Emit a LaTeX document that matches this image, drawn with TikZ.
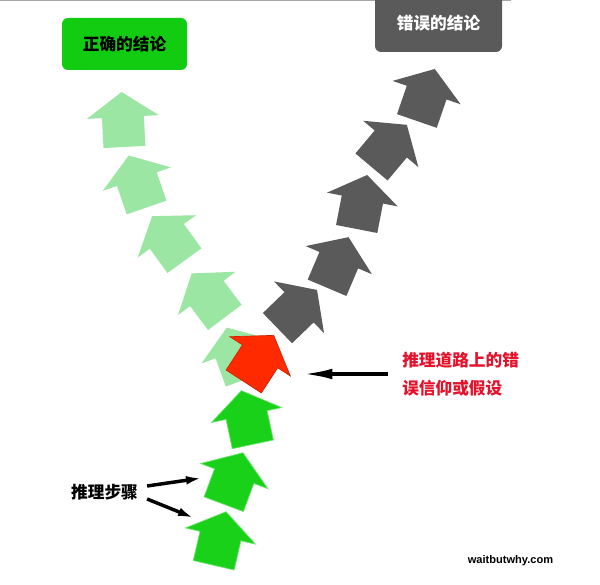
\documentclass[tikz,border=0pt]{standalone}
\usepackage{fontspec}
\newfontfamily\cjk{Noto Sans CJK SC}
\newfontfamily\webfont{Liberation Sans}
\usepackage{xcolor}
\definecolor{rightgreen}{HTML}{12CC12}
\definecolor{stepgreen}{HTML}{1AD11A}
\definecolor{palegreen}{HTML}{9CE6A4}
\definecolor{wronggrey}{HTML}{5A5A5A}
\definecolor{faultred}{HTML}{FF2A00}
\definecolor{labelred}{HTML}{E4122B}
\usepackage{tikz}
\usetikzlibrary{arrows.meta}
\usetikzlibrary{positioning}
\tikzstyle{concl} = [rectangle, rounded corners=4.5pt, inner sep=0pt,
    font=\cjk\bfseries\fontsize{12.5}{15}\selectfont]
\tikzstyle{note} = [inner ysep=2pt, font=\cjk\bfseries\fontsize{12.5}{21}\selectfont]
\tikzstyle{line} = [draw, line width=2.6pt, -{Latex[length=12pt,width=6.5pt]}]
\tikzset{
  house/.pic={
    \path[pic actions] (0,-27) -- (36,-2) -- (21,-2) -- (21,28) -- (-21,28)
      -- (-21,-2) -- (-36,-2) -- cycle;
  }
}

\begin{document}
\begin{tikzpicture}[x=0.75pt, y=-0.75pt]
    \useasboundingbox[fill=white] (0,0) rectangle (600,585);
    \clip (0,0) rectangle (600,585);
    \draw[gray!70, line width=0.75pt] (0,0.5) -- (511,0.5);

    % Conclusions
    \node [concl, fill=rightgreen, minimum width=93.75pt, minimum height=39pt] (right) at (124.5,44) {正确的结论};
    \node [concl, fill=wronggrey, text=white, minimum width=95.25pt, minimum height=43.5pt] (wrong) at (438.5,23) {错误的结论};

    % Steps towards the right conclusion
    \pic [fill=palegreen, rotate=3] at (123,119) {house};
    \pic [fill=palegreen, rotate=19] at (137.5,181) {house};
    \pic [fill=palegreen, rotate=36] at (168,238) {house};
    \pic [fill=palegreen, rotate=37] at (208,295) {house};
    \pic [fill=palegreen, rotate=20] at (236,353) {house};

    % Steps towards the wrong conclusion
    \pic [fill=wronggrey, rotate=-46] at (297.6,308.7) {house};
    \pic [fill=wronggrey, rotate=-23] at (338,262) {house};
    \pic [fill=wronggrey, rotate=-11] at (362,201.5) {house};
    \pic [fill=wronggrey, rotate=-40] at (389.5,145.5) {house};
    \pic [fill=wronggrey, rotate=-19] at (426,94.5) {house};

    % Steps taken so far
    \pic [fill=stepgreen, draw=stepgreen!60, line width=0.5pt, rotate=12] at (247,417) {house};
    \pic [fill=stepgreen, draw=stepgreen!60, line width=0.5pt, rotate=-20.5] at (233.5,478) {house};
    \pic [fill=stepgreen, draw=stepgreen!60, line width=0.5pt, rotate=-13] at (220,538) {house};
    \pic [fill=faultred, draw=faultred!80!black, line width=0.5pt, rotate=-33] at (259,358) {house};

    % Labels
    \node [note, text=labelred, align=left, anchor=west, inner xsep=10.5pt] (fault) at (388,374) {推理道路上的错\\误信仰或假设};
    \node [note, inner xsep=6.75pt] (steps) at (104.5,492) {推理步骤};
    \node [font=\webfont\bfseries\fontsize{8.3}{10}\selectfont] (site) at (510.5,561) {waitbutwhy.com};

    \coordinate (redhit) at (303,374);
    \coordinate (steptwo) at (202,478);
    \coordinate (stepone) at (194,518);

    \path [line, -{Latex[length=22pt,width=8pt]}] (fault) -- (redhit);
    \path [line] ([yshift=4.5pt]steps.east) -- (steptwo);
    \path [line] ([yshift=-5.25pt]steps.east) -- (stepone);
\end{tikzpicture}
\end{document}
